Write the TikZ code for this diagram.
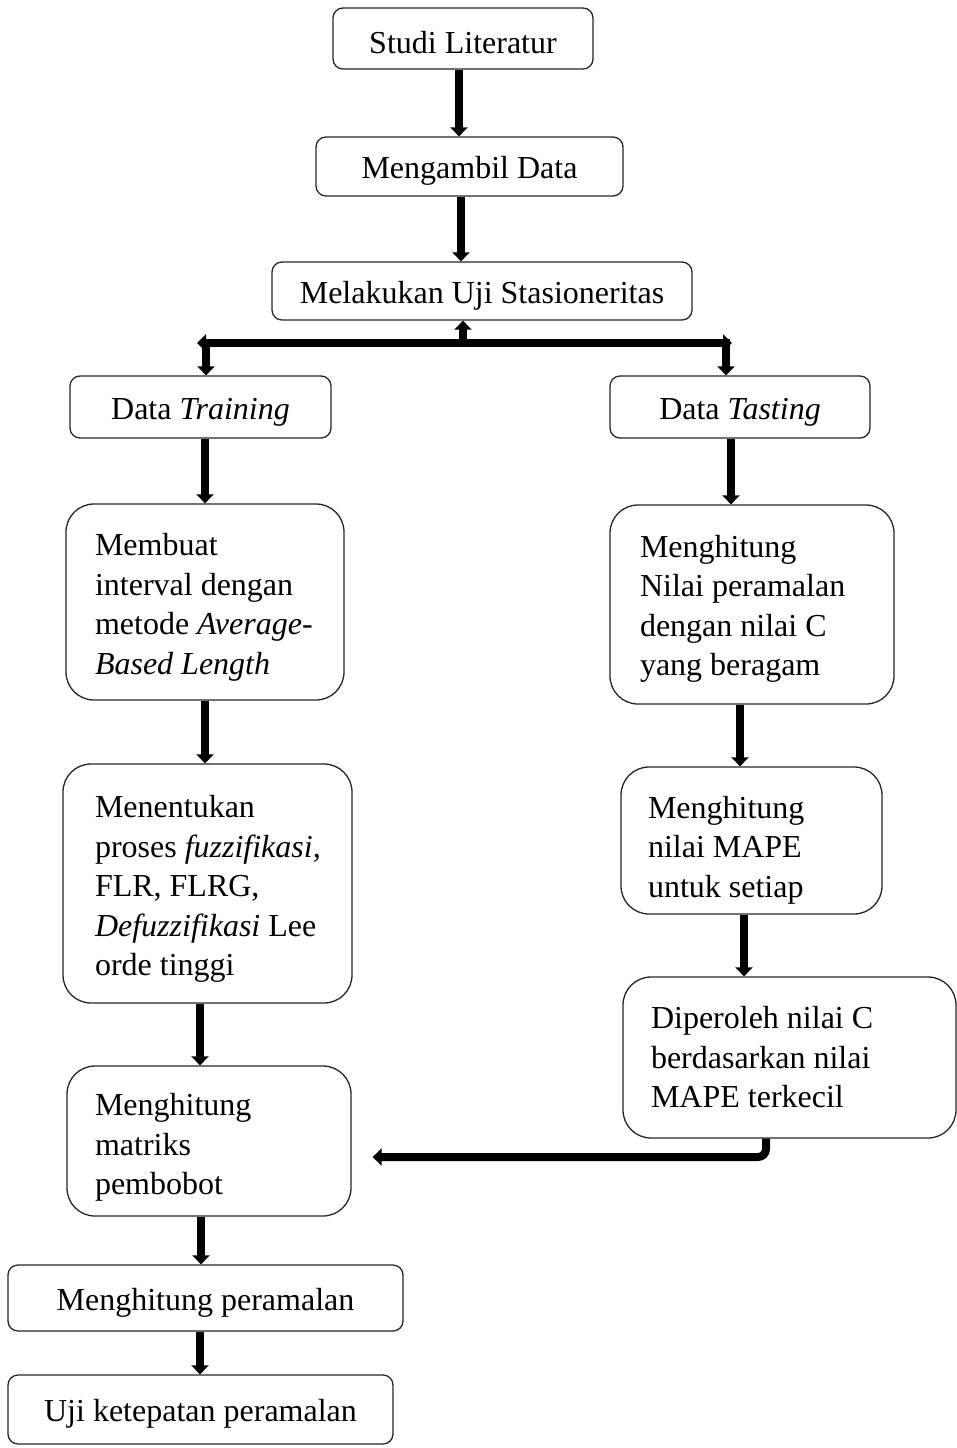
\documentclass[tikz,border=0pt]{standalone}
\usepackage{fontspec}
\setmainfont{Liberation Serif}
\usetikzlibrary{arrows.meta}
\newcommand{\oneline}[1]{\mbox{#1}}
\newcommand{\lift}[1]{\rule{0pt}{#1}}
\tikzset{
  box/.style={draw=black!85, line width=1.3pt, rounded corners=10pt, inner sep=0pt, align=center,
    text height=31pt, font=\fontsize{32}{39.5}\selectfont},
  bigbox/.style={draw=black!85, line width=1.3pt, rounded corners=28pt, inner ysep=0pt, align=flush left,
    font=\fontsize{32}{39.5}\selectfont},
  arr/.style={line width=8pt, -{Triangle[width=17pt,length=9pt]}},
}
\begin{document}
\begin{tikzpicture}[x=1pt,y=-1pt]
\useasboundingbox (0,0) rectangle (956,1448);
% top chain
\node[box, minimum width=260pt, minimum height=61pt] (s1) at (463,38.5) {Studi Literatur};
\node[box, minimum width=307pt, minimum height=59pt] (s2) at (469.5,166.5) {Mengambil Data};
\node[box, minimum width=420pt, minimum height=58pt] (s3) at (482,291) {Melakukan Uji Stasioneritas};
\node[box, minimum width=261pt, minimum height=62pt] (dtr) at (200.5,407) {Data \textit{Training}};
\node[box, minimum width=260pt, minimum height=62pt] (dts) at (740,407) {Data \textit{Tasting}};
% left column
\node[bigbox, minimum width=278pt, minimum height=196pt, inner xsep=29pt, text width=220pt] (b1) at (205,602)
  {\lift{33pt}\oneline{Membuat}\\\oneline{interval dengan}\\\oneline{metode \textit{Average-}}\\\oneline{\textit{Based Length}}};
\node[bigbox, minimum width=289pt, minimum height=239pt, inner xsep=32pt, text width=225pt] (b2) at (207.5,883.5)
  {\lift{33pt}\oneline{Menentukan}\\\oneline{proses \textit{fuzzifikasi,}}\\\oneline{FLR, FLRG,}\\\oneline{\textit{Defuzzifikasi} Lee}\\\oneline{orde tinggi}};
\node[bigbox, minimum width=284pt, minimum height=150pt, inner xsep=28pt, text width=228pt] (b3) at (209,1141)
  {\lift{35pt}\oneline{Menghitung}\\\oneline{matriks}\\\oneline{pembobot}};
\node[box, minimum width=395pt, minimum height=66pt] (b4) at (205.5,1298) {Menghitung peramalan};
\node[box, minimum width=385pt, minimum height=69pt] (b5) at (200.5,1409.5) {Uji ketepatan peramalan};
% right column
\node[bigbox, minimum width=284pt, minimum height=199pt, inner xsep=30pt, text width=224pt] (c1) at (752,604.5)
  {\lift{31pt}\oneline{Menghitung}\\\oneline{Nilai peramalan}\\\oneline{dengan nilai C}\\\oneline{yang beragam}};
\node[bigbox, minimum width=261pt, minimum height=147pt, inner xsep=27pt, text width=207pt] (c2) at (751.5,840.5)
  {\lift{41pt}\oneline{Menghitung}\\\oneline{nilai MAPE}\\\oneline{untuk setiap}};
\node[bigbox, minimum width=333pt, minimum height=161pt, inner xsep=28pt, text width=277pt] (c3) at (789.5,1057.5)
  {\oneline{Diperoleh nilai C}\\\oneline{berdasarkan nilai}\\\oneline{MAPE terkecil}};
% connectors
\draw[arr] ([xshift=-4pt]s1.south) -- ([xshift=-4pt]s1.south |- s2.north);
\draw[arr] ([xshift=-8.5pt]s2.south) -- ([xshift=-8.5pt]s2.south |- s3.north);
\coordinate (j) at (463,343);
\coordinate (jl) at (206,343);
\coordinate (jr) at (726,343);
\draw[arr] (j) -- (j |- s3.south);
\draw[arr] (j) -- ([xshift=-9pt]jl);
\draw[arr] (j) -- ([xshift=6pt]jr);
\draw[arr] ([yshift=4pt]jl) -- (jl |- dtr.north);
\draw[arr] ([yshift=4pt]jr) -- (jr |- dts.north);
\draw[arr] ([xshift=4.5pt]dtr.south) -- ([xshift=4.5pt]dtr.south |- b1.north);
\draw[arr] (b1.south) -- (b1.south |- b2.north);
\draw[arr] ([xshift=-7.5pt]b2.south) -- ([xshift=-7.5pt]b2.south |- b3.north);
\draw[arr] ([xshift=-8pt]b3.south) -- ([xshift=-8pt]b3.south |- b4.north);
\draw[arr] ([xshift=-5.5pt]b4.south) -- ([xshift=-5.5pt]b4.south |- b5.north);
\draw[arr] ([xshift=-9pt]dts.south) -- ([xshift=-9pt]dts.south |- c1.north);
\draw[arr] ([xshift=-12pt]c1.south) -- ([xshift=-12pt]c1.south |- c2.north);
\draw[arr] ([xshift=-7.5pt]c2.south) -- ([xshift=-7.5pt]c2.south |- c3.north);
\draw[arr, rounded corners=8pt] ([xshift=-23.5pt]c3.south) |- ([shift={(21pt,-16pt)}]b3.east);
\end{tikzpicture}
\end{document}
